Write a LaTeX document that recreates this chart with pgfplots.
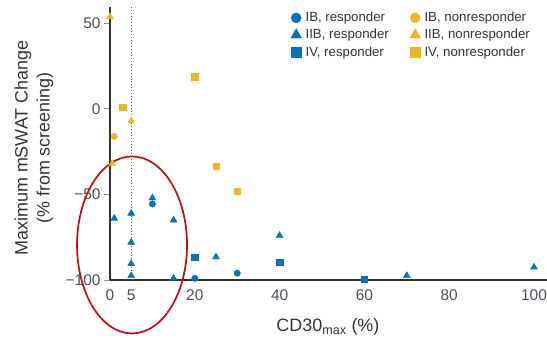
\documentclass[border=0pt]{standalone}
\usepackage{fontspec}
\setmainfont{Liberation Sans}
\usepackage{pgfplots}
\pgfplotsset{compat=1.18}
\definecolor{cblue}{RGB}{0,114,188}
\definecolor{cyel}{RGB}{234,183,35}
\definecolor{cred}{RGB}{185,15,22}
\definecolor{ctick}{RGB}{72,78,92}
\begin{document}
\begin{tikzpicture}
\useasboundingbox (-110bp,-58bp) rectangle (437bp,280bp);
\begin{axis}[
 x=4.24bp, y=1.71bp,
 xmin=0, xmax=103, ymin=-100, ymax=59.5,
 axis lines=left, axis line style={-, line width=1.1bp, color=black!80},
 clip=false,
 xtick={0,5,20,40,60,80,100}, xticklabels={0,5,20,40,60,80,100},
 ytick={-100,-50,0,50}, yticklabels={−100,−50,0,50},
 x tick style={draw=none}, y tick style={line width=1bp, black!45},
 tick align=outside, major tick length=6bp,
 tick label style={font=\fontsize{15.5}{18}\selectfont, text=ctick},
 every axis x label/.style={at={(axis cs:51.4,-100)}, yshift=-47bp, anchor=center, font=\fontsize{18}{21}\selectfont, text=black!80},
 every axis y label/.style={at={(axis cs:0,-100)}, xshift=-76bp, yshift=132bp, rotate=90, anchor=center, align=center, font=\fontsize{18}{22}\selectfont, text=black!80},
 xlabel={CD30\textsubscript{max} (\%)},
 ylabel={Maximum mSWAT Change\\(\% from screening)},
 legend columns=2,
 legend cell align=left,
 legend style={at={(axis cs:41.9,59.0)}, anchor=north west, draw=none, fill=none,
   font=\fontsize{13.3}{16}\selectfont, text=black!80, row sep=2bp,
   /tikz/every odd column/.append style={column sep=2bp},
   /tikz/every even column/.append style={column sep=19bp}},
]
\addlegendimage{only marks, mark=*, mark size=5bp, color=cblue}
\addlegendentry{IB, responder}
\addlegendimage{only marks, mark=*, mark size=5bp, color=cyel}
\addlegendentry{IB, nonresponder}
\addlegendimage{only marks, mark=triangle*, mark size=6.2bp, color=cblue}
\addlegendentry{IIB, responder}
\addlegendimage{only marks, mark=triangle*, mark size=6.2bp, color=cyel}
\addlegendentry{IIB, nonresponder}
\addlegendimage{only marks, mark=square*, mark size=5bp, color=cblue}
\addlegendentry{IV, responder}
\addlegendimage{only marks, mark=square*, mark size=5bp, color=cyel}
\addlegendentry{IV, nonresponder}

\draw[dotted, black!60, line width=1bp] (axis cs:5,-100) -- (axis cs:5,59.5);

% IB responder
\addplot[forget plot, only marks, mark=*, mark size=3.2bp, color=cblue] coordinates {(10,-55.5) (20,-99) (30,-96)};
% IIB responder
\addplot[forget plot, only marks, mark=triangle*, mark size=4bp, color=cblue] coordinates {
 (1,-64) (5,-61) (5,-78) (5,-90.5) (5,-97.5) (10,-52) (15,-65) (15,-99)
 (25,-86.5) (40,-74) (70,-97.5) (100,-92.5)};
% IV responder
\addplot[forget plot, only marks, mark=square*, mark size=3.2bp, color=cblue] coordinates {(20,-86.5) (40,-89.5) (60,-99.7)};
% IB nonresponder
\addplot[forget plot, only marks, mark=*, mark size=3.2bp, color=cyel] coordinates {(1,-16)};
% IIB nonresponder
\addplot[forget plot, only marks, mark=triangle*, mark size=4bp, color=cyel] coordinates {(0,54) (5,-7) (0.5,-32)};
% IV nonresponder
\addplot[forget plot, only marks, mark=square*, mark size=3.2bp, color=cyel] coordinates {(3,1) (20,19) (25,-33.5) (30,-48)};

\draw[cred, line width=1.7bp] (axis cs:5.2,-79.5) ellipse [x radius=55bp, y radius=88.5bp];
\end{axis}
\end{tikzpicture}
\end{document}
